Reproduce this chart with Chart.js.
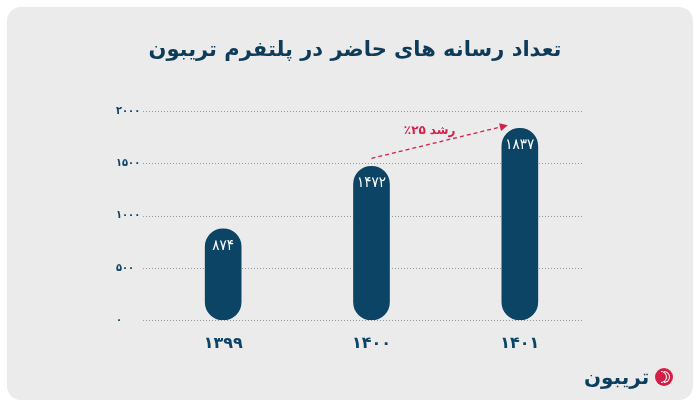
<!DOCTYPE html>
<html lang="fa">
<head>
<meta charset="utf-8">
<script src="https://cdn.jsdelivr.net/npm/chart.js@4"></script>
<style>
  html, body { margin: 0; padding: 0; background: #ffffff; width: 700px; height: 408px; overflow: hidden; }
  #card { position: absolute; left: 7px; top: 7px; width: 686px; height: 393px; border-radius: 14px; background: #ebebeb; }
  #wrap { position: absolute; left: 0; top: 0; width: 700px; height: 408px; }
  #logo { position: absolute; left: 584px; top: 363px; height: 28px; display: flex; align-items: center; direction: ltr; }
  #logo .txt { font-family: "DejaVu Sans", sans-serif; font-weight: bold; font-size: 20px; color: #0c3f5e; margin-right: 6px; }
  #logo .dot { width: 18px; height: 18px; border-radius: 50%; background: #d11f45; position: relative; overflow: hidden; }
  #logo .dot i { position: absolute; top: 3px; width: 6px; height: 12px; border: 1.5px solid #fff; border-left: none; border-radius: 0 8px 8px 0; box-sizing: border-box; }
</style>
</head>
<body>
<div id="card"></div>
<div id="wrap"><canvas id="chart" width="700" height="408"></canvas></div>
<div id="logo"><span class="txt">تریبون</span><span class="dot"><i style="left:6px"></i><i style="left:9px"></i></span></div>
<script>
// data
const years = ['۱۳۹۹', '۱۴۰۰', '۱۴۰۱'];
const mediaCounts = [874, 1472, 1837];
const yTicks = [0, 500, 1000, 1500, 2000];
const growthWord = 'رشد';
const growthPct = '٪۲۵';
const chartTitle = 'تعداد رسانه های حاضر در پلتفرم تریبون';

const navy = '#0c4465';
const red = '#d42149';
const faFont = '"DejaVu Sans", sans-serif';
const faNarrow = '"DejaVu Sans Condensed", "DejaVu Sans", sans-serif';

// western digits -> persian digits
const fa = n => String(n).replace(/\d/g, d => '۰۱۲۳۴۵۶۷۸۹'[d]);

// dotted horizontal guides, a bit wider on the left than the bars area
const dottedGrid = {
    id: 'dottedGrid',
    beforeDatasetsDraw(chart) {
        const ctx = chart.ctx, y = chart.scales.y, area = chart.chartArea;
        ctx.save();
        ctx.strokeStyle = '#8f9ca6';
        ctx.lineWidth = 1;
        ctx.setLineDash([1, 2]);
        yTicks.forEach(v => {
            const py = Math.round(y.getPixelForValue(v)) + 0.5;
            ctx.beginPath();
            ctx.moveTo(area.left - 6, py);
            ctx.lineTo(area.right - 12, py);
            ctx.stroke();
        });
        ctx.restore();
    }
};

// value labels inside bars + growth arrow
const barLabels = {
    id: 'barLabels',
    afterDatasetsDraw(chart) {
        const ctx = chart.ctx;
        const meta = chart.getDatasetMeta(0);
        const x = chart.scales.x, y = chart.scales.y;
        ctx.save();
        ctx.fillStyle = '#ffffff';
        ctx.font = '15px ' + faNarrow;
        ctx.textAlign = 'center';
        ctx.textBaseline = 'middle';
        meta.data.forEach((bar, i) => {
            ctx.fillText(fa(mediaCounts[i]), bar.x, bar.y + 17);
        });

        // arrow from 2nd bar to 3rd bar
        const x0 = x.getPixelForValue(1), y0 = y.getPixelForValue(mediaCounts[1]) - 8;
        const x1 = x.getPixelForValue(2) - 12, y1 = y.getPixelForValue(mediaCounts[2]) - 3;
        const ang = Math.atan2(y1 - y0, x1 - x0);
        ctx.strokeStyle = red;
        ctx.fillStyle = red;
        ctx.lineWidth = 1.3;
        ctx.setLineDash([4, 3]);
        ctx.beginPath();
        ctx.moveTo(x0, y0);
        ctx.lineTo(x1 - 6 * Math.cos(ang), y1 - 6 * Math.sin(ang));
        ctx.stroke();
        ctx.setLineDash([]);
        ctx.beginPath();
        ctx.moveTo(x1, y1);
        ctx.lineTo(x1 - 8 * Math.cos(ang) + 4 * Math.sin(ang), y1 - 8 * Math.sin(ang) - 4 * Math.cos(ang));
        ctx.lineTo(x1 - 8 * Math.cos(ang) - 4 * Math.sin(ang), y1 - 8 * Math.sin(ang) + 4 * Math.cos(ang));
        ctx.closePath();
        ctx.fill();

        // "٪۲۵ رشد": percentage on the left, word on the right
        ctx.font = 'bold 12px ' + faFont;
        const gap = 4;
        const wPct = ctx.measureText(growthPct).width;
        const wWord = ctx.measureText(growthWord).width;
        const cx = (x0 + x1) / 2 - 10, cy = (y0 + y1) / 2 - 11;
        const left = cx - (wPct + gap + wWord) / 2;
        ctx.textAlign = 'left';
        ctx.fillText(growthPct, left, cy);
        ctx.fillText(growthWord, left + wPct + gap, cy);
        ctx.restore();
    }
};

new Chart(document.getElementById('chart'), {
    type: 'bar',
    data: {
        labels: years,
        datasets: [{
            data: mediaCounts,
            backgroundColor: navy,
            barThickness: 36,
            borderRadius: 18,
            borderSkipped: false
        }]
    },
    options: {
        responsive: false,
        animation: false,
        layout: { padding: { left: 116, right: 106, top: 0, bottom: 48 } },
        plugins: {
            legend: { display: false },
            tooltip: { enabled: false },
            title: {
                display: true,
                text: chartTitle,
                color: '#0e3b58',
                font: { family: faFont, size: 21, weight: 'bold' },
                padding: { top: 38, bottom: 48 }
            }
        },
        scales: {
            x: {
                grid: { display: false },
                border: { display: false },
                ticks: {
                    color: navy,
                    font: { family: faFont, size: 16, weight: 'bold' },
                    padding: 6
                },
                afterFit: s => { s.height = 40; }
            },
            y: {
                min: 0,
                max: 2000,
                afterBuildTicks: s => { s.ticks = yTicks.map(v => ({ value: v })); },
                grid: { display: false },
                border: { display: false },
                ticks: {
                    color: navy,
                    crossAlign: 'far',
                    font: { family: faNarrow, size: 11, weight: 'bold' },
                    callback: v => fa(v)
                },
                afterFit: s => { s.width = 33; }
            }
        }
    },
    plugins: [dottedGrid, barLabels]
});
</script>
</body>
</html>
